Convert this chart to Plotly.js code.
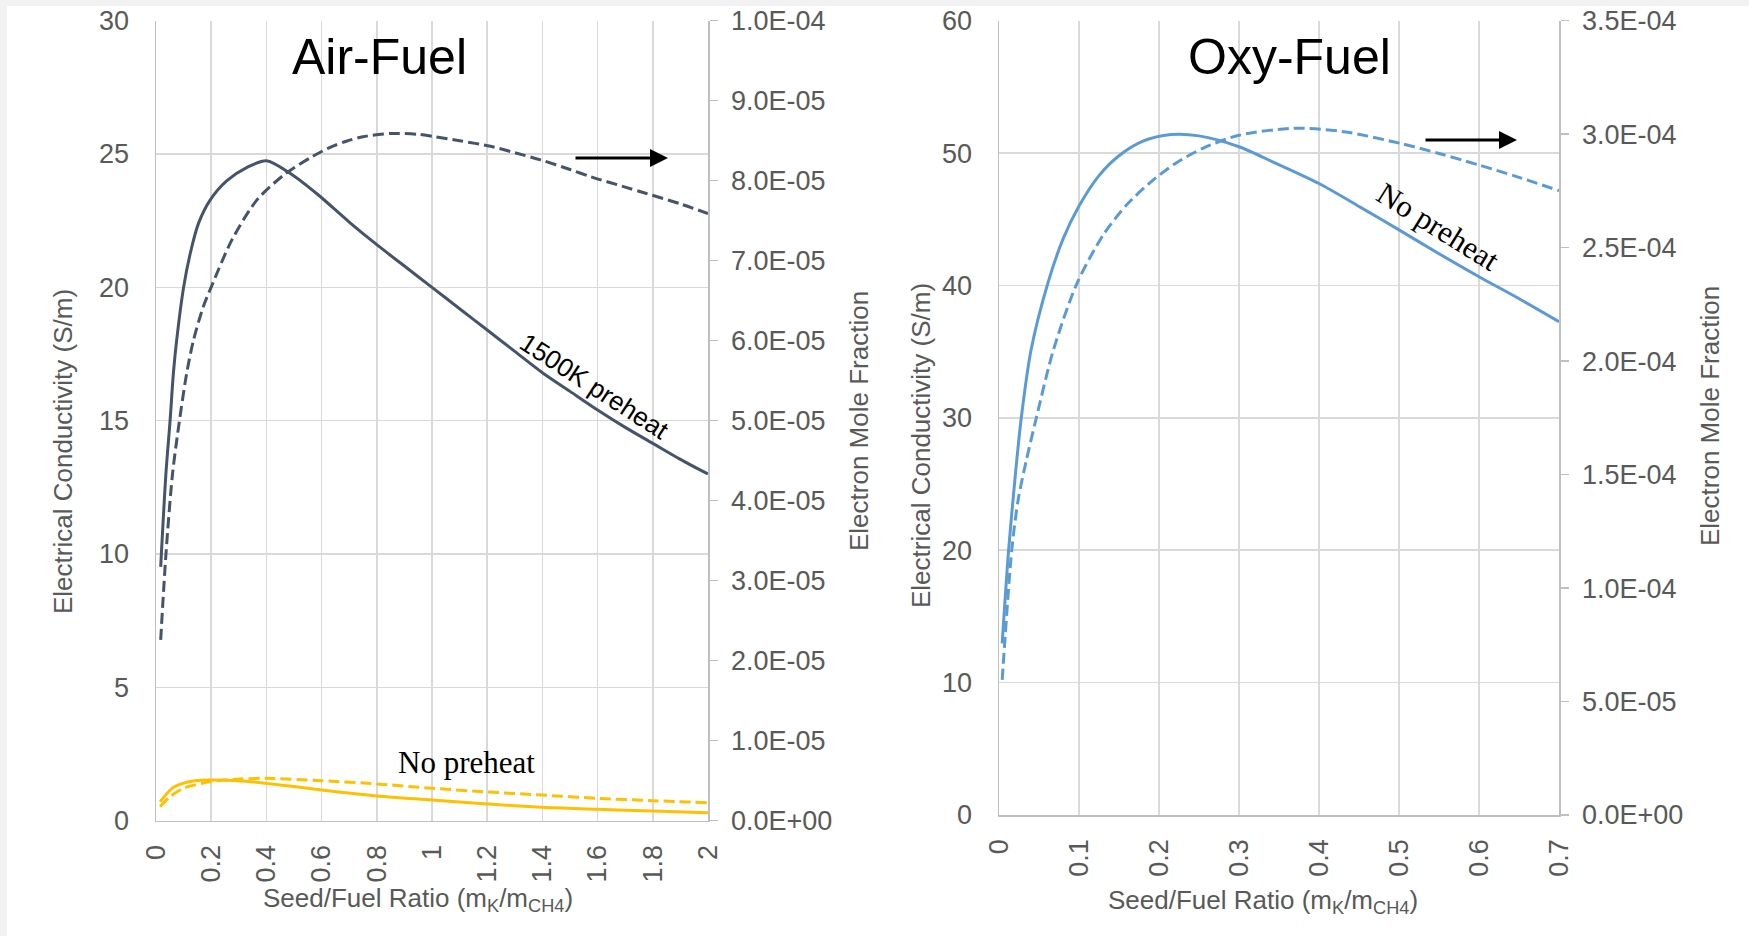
<!DOCTYPE html>
<html>
<head>
<meta charset="utf-8">
<script src="https://cdn.plot.ly/plotly-3.0.1.min.js"></script>
<style>
  html, body { margin: 0; padding: 0; background: #f2f2f2; width: 1749px; height: 936px; overflow: hidden; }
  #chart { position: absolute; left: 7px; top: 6px; width: 1742px; height: 930px; background: #ffffff; }
</style>
</head>
<body>
<div id="chart"></div>
<script>
// ---------------- DATA ----------------
// Air-Fuel, 1500K preheat
const airHotCondX = [0.017, 0.036, 0.051, 0.063, 0.075, 0.1, 0.124, 0.154, 0.196, 0.257, 0.33, 0.4, 0.487, 0.584, 0.7, 0.8, 0.9, 1.0, 1.1, 1.2, 1.3, 1.4, 1.5, 1.6, 1.7, 1.8, 1.9, 2.0];
const airHotCondY = [9.52, 13.03, 15.0, 16.78, 18.03, 20.0, 21.27, 22.4, 23.27, 24.0, 24.5, 24.75, 24.27, 23.5, 22.45, 21.6, 20.8, 20.0, 19.2, 18.4, 17.6, 16.8, 16.1, 15.4, 14.75, 14.15, 13.55, 13.0];
const airHotMoleX = [0.017, 0.036, 0.06, 0.085, 0.111, 0.136, 0.172, 0.2, 0.275, 0.366, 0.47, 0.566, 0.633, 0.687, 0.75, 0.849, 0.95, 1.01, 1.1, 1.212, 1.3, 1.394, 1.5, 1.575, 1.7, 1.777, 1.9, 2.0];
const airHotMoleY = [2.26e-5, 3.33e-5, 4.34e-5, 5.0e-5, 5.59e-5, 6.01e-5, 6.43e-5, 6.67e-5, 7.26e-5, 7.76e-5, 8.09e-5, 8.3e-5, 8.42e-5, 8.49e-5, 8.55e-5, 8.59e-5, 8.58e-5, 8.55e-5, 8.5e-5, 8.43e-5, 8.35e-5, 8.26e-5, 8.14e-5, 8.05e-5, 7.92e-5, 7.84e-5, 7.71e-5, 7.59e-5];
// Air-Fuel, no preheat
const airColdCondX = [0.015, 0.06, 0.1, 0.14, 0.2, 0.3, 0.4, 0.5, 0.6, 0.8, 1.0, 1.2, 1.4, 1.6, 1.8, 2.0];
const airColdCondY = [0.71, 1.23, 1.41, 1.5, 1.53, 1.5, 1.4, 1.28, 1.15, 0.93, 0.78, 0.63, 0.5, 0.43, 0.36, 0.3];
const airColdMoleX = [0.015, 0.05, 0.1, 0.2, 0.3, 0.4, 0.6, 0.8, 1.0, 1.2, 1.4, 1.6, 1.8, 2.0];
const airColdMoleY = [1.75e-6, 3.0e-6, 4.05e-6, 4.9e-6, 5.2e-6, 5.3e-6, 5.0e-6, 4.6e-6, 4.05e-6, 3.6e-6, 3.2e-6, 2.8e-6, 2.5e-6, 2.25e-6];
// Oxy-Fuel, no preheat
const oxyCondX = [0.004, 0.012, 0.021, 0.028, 0.04, 0.061, 0.08, 0.1, 0.125, 0.15, 0.18, 0.215, 0.25, 0.3, 0.347, 0.4, 0.452, 0.5, 0.55, 0.6, 0.648, 0.7];
const oxyCondY = [12.97, 20.0, 26.06, 30.08, 35.1, 40.16, 43.5, 46.0, 48.3, 49.8, 50.9, 51.4, 51.3, 50.48, 49.2, 47.7, 45.9, 44.2, 42.4, 40.66, 39.07, 37.26];
const oxyMoleX = [0.004, 0.016, 0.024, 0.034, 0.047, 0.068, 0.0975, 0.131, 0.16, 0.19, 0.22, 0.256, 0.3, 0.368, 0.431, 0.501, 0.55, 0.6, 0.648, 0.7];
const oxyMoleY = [0.595e-4, 1.17e-4, 1.39e-4, 1.56e-4, 1.755e-4, 2.049e-4, 2.343e-4, 2.56e-4, 2.69e-4, 2.79e-4, 2.87e-4, 2.94e-4, 2.995e-4, 3.026e-4, 3.011e-4, 2.96e-4, 2.915e-4, 2.864e-4, 2.812e-4, 2.751e-4];

// Tick labels
const airMoleTickVals = [0, 1e-5, 2e-5, 3e-5, 4e-5, 5e-5, 6e-5, 7e-5, 8e-5, 9e-5, 1e-4];
const airMoleTickText = ['0.0E+00', '1.0E-05', '2.0E-05', '3.0E-05', '4.0E-05', '5.0E-05', '6.0E-05', '7.0E-05', '8.0E-05', '9.0E-05', '1.0E-04'];
const oxyMoleTickVals = [0, 5e-5, 1e-4, 1.5e-4, 2e-4, 2.5e-4, 3e-4, 3.5e-4];
const oxyMoleTickText = ['0.0E+00', '5.0E-05', '1.0E-04', '1.5E-04', '2.0E-04', '2.5E-04', '3.0E-04', '3.5E-04'];

// Text
const titleAir = 'Air-Fuel';
const titleOxy = 'Oxy-Fuel';
const xTitle = 'Seed/Fuel Ratio (m<sub>K</sub>/m<sub>CH4</sub>)';
const yTitleL = 'Electrical Conductivity (S/m)';
const yTitleR = 'Electron Mole Fraction';

// ---------------- STYLE ----------------
const W = 1742, H = 930, OX = 7, OY = 6;
const px = xf => (xf - OX) / W;
const py = yf => 1 - (yf - OY) / H;

const NAVY = '#44546a', GOLD = '#ffc000', BLUE = '#5b9bd5';
const GRID = '#d9d9d9', LINE = '#bfbfbf', TXT = '#595959';
const SANS = 'Liberation Sans, Arial, sans-serif';
const SERIF = 'Liberation Serif, Times New Roman, serif';
const DASH = '11px,5px';

const tickFont = { family: SANS, size: 27, color: TXT };

function tr(x, y, xa, ya, color, dash) {
  return {
    x: x, y: y, xaxis: xa, yaxis: ya, type: 'scatter', mode: 'lines',
    line: { color: color, width: 3, dash: dash || 'solid', shape: 'spline', smoothing: 0.8 },
    hoverinfo: 'skip', showlegend: false
  };
}

const data = [
  tr(airHotCondX, airHotCondY, 'x', 'y', NAVY),
  tr(airColdCondX, airColdCondY, 'x', 'y', GOLD),
  tr(airHotMoleX, airHotMoleY, 'x', 'y2', NAVY, DASH),
  tr(airColdMoleX, airColdMoleY, 'x', 'y2', GOLD, DASH),
  tr(oxyCondX, oxyCondY, 'x2', 'y3', BLUE),
  tr(oxyMoleX, oxyMoleY, 'x2', 'y4', BLUE, DASH)
];

const xBase = {
  showgrid: true, gridcolor: GRID, gridwidth: 1.5, zeroline: false,
  showline: true, linecolor: LINE, linewidth: 1.5, ticks: '',
  tickangle: -90, tickfont: tickFont, ticklabelstandoff: 12, fixedrange: true
};
const yBase = {
  showgrid: true, gridcolor: GRID, gridwidth: 1.5, zeroline: false,
  showline: true, linecolor: LINE, linewidth: 1.5, ticks: '',
  tickfont: tickFont, ticklabelstandoff: 20, fixedrange: true
};
const yRight = {
  showgrid: false, zeroline: false, showline: true, linecolor: LINE, linewidth: 1.5,
  ticks: 'outside', ticklen: 8, tickcolor: LINE, tickwidth: 1.5,
  tickfont: tickFont, ticklabelstandoff: 8, side: 'right', tickmode: 'array', fixedrange: true
};

const ann = [];
function note(text, xf, yf, opts) {
  ann.push(Object.assign({
    text: text, x: px(xf), y: py(yf), xref: 'paper', yref: 'paper',
    showarrow: false, xanchor: 'center', yanchor: 'middle',
    font: { family: SANS, size: 26, color: TXT }
  }, opts || {}));
}
note(titleAir, 379, 57, { font: { family: SANS, size: 50, color: '#000000' } });
note(titleOxy, 1289, 57, { font: { family: SANS, size: 50, color: '#000000' } });
note(xTitle, 418, 899);
note(xTitle, 1263, 901);
note(yTitleL, 63, 452, { textangle: -90 });
note(yTitleR, 859, 421, { textangle: -90 });
note(yTitleL, 921, 446, { textangle: -90 });
note(yTitleR, 1710, 416, { textangle: -90 });
note('No preheat', 467, 762, { font: { family: SERIF, size: 31, color: '#000000' } });
note('1500K preheat', 594, 386, { textangle: 33, font: { family: SANS, size: 26, color: '#000000' } });
note('No preheat', 1438, 226, { textangle: 32, font: { family: SERIF, size: 31, color: '#000000' } });
// arrows pointing to the secondary axis
function arrow(x0, x1, yf) {
  ann.push({
    x: px(x1), y: py(yf), xref: 'paper', yref: 'paper', text: '',
    showarrow: true, arrowhead: 2, arrowsize: 1.2, arrowwidth: 3, arrowcolor: '#000000',
    ax: x0 - x1, ay: 0
  });
}
arrow(574, 668, 158);
arrow(1424, 1517, 140);

const layout = {
  width: W, height: H,
  margin: { l: 0, r: 0, t: 0, b: 0 },
  paper_bgcolor: '#ffffff', plot_bgcolor: 'rgba(0,0,0,0)',
  showlegend: false,
  xaxis: Object.assign({}, xBase, { domain: [px(156), px(708)], anchor: 'y', range: [0, 2], tick0: 0, dtick: 0.2 }),
  yaxis: Object.assign({}, yBase, { domain: [py(820.7), py(20.7)], anchor: 'x', range: [0, 30], tick0: 0, dtick: 5 }),
  yaxis2: Object.assign({}, yRight, { overlaying: 'y', anchor: 'x', range: [0, 1e-4], tickvals: airMoleTickVals, ticktext: airMoleTickText }),
  xaxis2: Object.assign({}, xBase, { domain: [px(999), px(1559)], anchor: 'y3', range: [0, 0.7], tick0: 0, dtick: 0.1 }),
  yaxis3: Object.assign({}, yBase, { domain: [py(815), py(20.7)], anchor: 'x2', range: [0, 60], tick0: 0, dtick: 10 }),
  yaxis4: Object.assign({}, yRight, { overlaying: 'y3', anchor: 'x2', range: [0, 3.5e-4], tickvals: oxyMoleTickVals, ticktext: oxyMoleTickText }),
  annotations: ann
};

Plotly.newPlot('chart', data, layout, { staticPlot: true, displayModeBar: false });
</script>
</body>
</html>
